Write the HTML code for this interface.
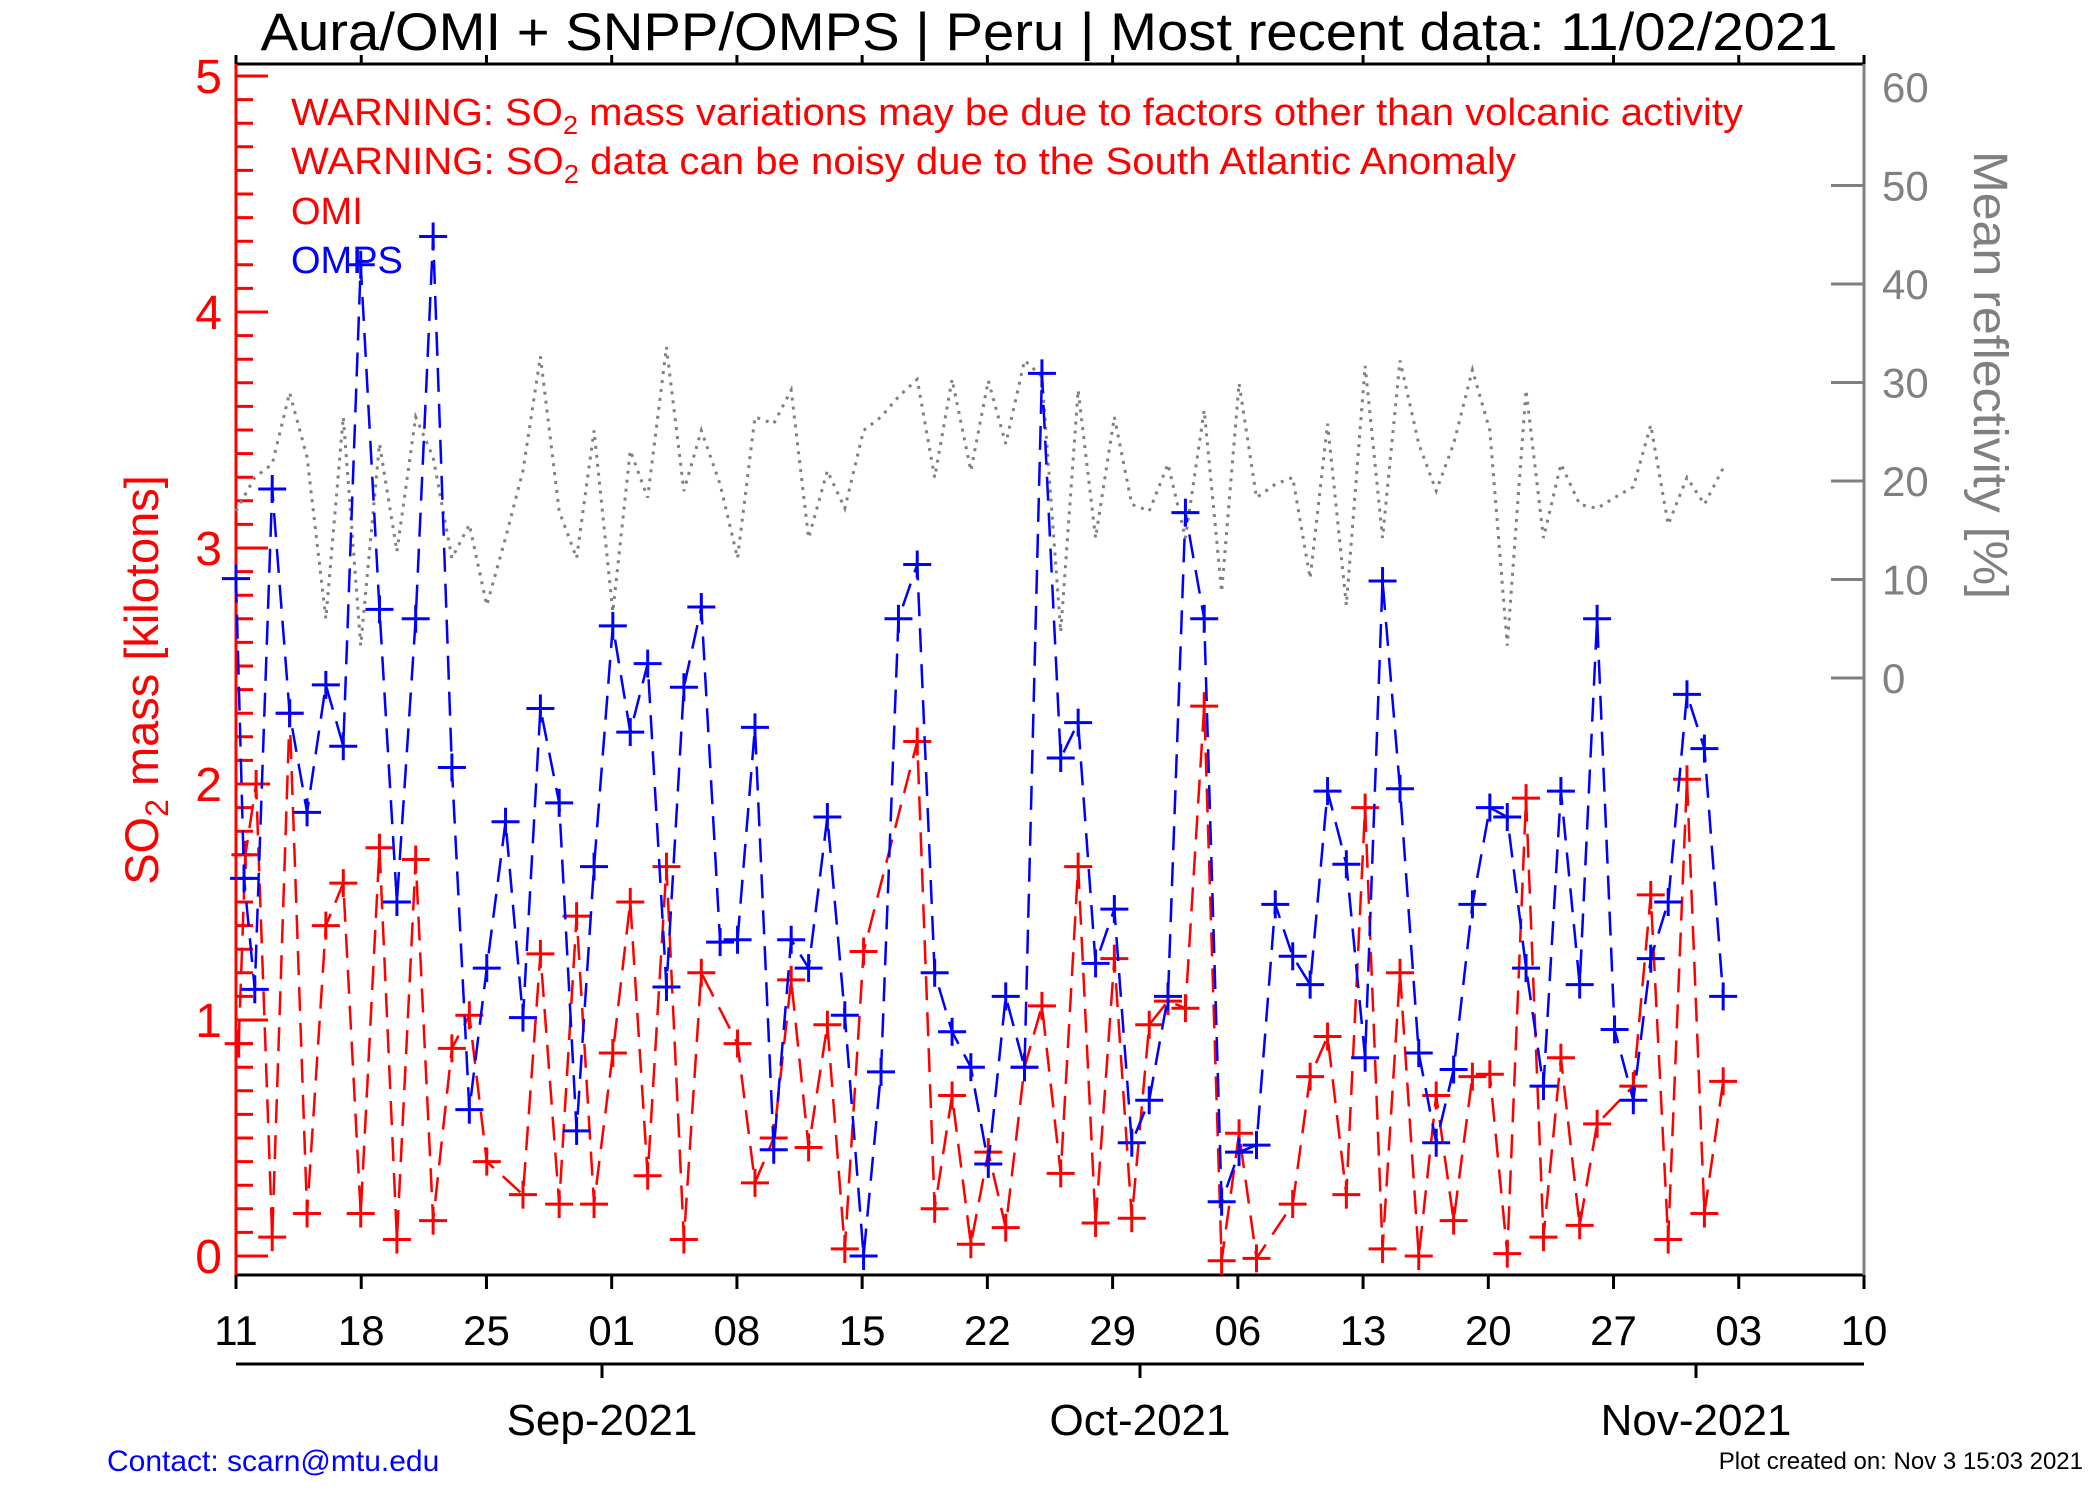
<!DOCTYPE html>
<html><head><meta charset="utf-8"><style>
html,body{margin:0;padding:0;background:#fff}
svg{display:block}
text{font-family:"Liberation Sans",Arial,sans-serif}
</style></head><body>
<svg id="s" xmlns="http://www.w3.org/2000/svg" width="2100" height="1500" viewBox="0 0 2100 1500">
<rect width="2100" height="1500" fill="#fff"/>
<text x="1049" y="50" font-size="53" text-anchor="middle" textLength="1577" lengthAdjust="spacingAndGlyphs">Aura/OMI + SNPP/OMPS | Peru | Most recent data: 11/02/2021</text>
<g id="g"></g>
<text x="291" y="125" font-size="38" fill="#f00" textLength="1452" lengthAdjust="spacingAndGlyphs">WARNING: SO<tspan font-size="26" dy="9">2</tspan><tspan dy="-9"> mass variations may be due to factors other than volcanic activity</tspan></text>
<text x="291" y="174" font-size="38" fill="#f00" textLength="1225" lengthAdjust="spacingAndGlyphs">WARNING: SO<tspan font-size="26" dy="9">2</tspan><tspan dy="-9"> data can be noisy due to the South Atlantic Anomaly</tspan></text>
<text x="291" y="224" font-size="38" fill="#f00">OMI</text>
<text x="291" y="273" font-size="38" fill="#00f">OMPS</text>
<text transform="translate(158,680) rotate(-90)" font-size="47" fill="#f00" text-anchor="middle">SO<tspan font-size="32" dy="10">2</tspan><tspan dy="-10"> mass [kilotons]</tspan></text>
<text transform="translate(1974,375) rotate(90)" font-size="48" fill="#808080" text-anchor="middle" textLength="448" lengthAdjust="spacingAndGlyphs">Mean reflectivity [%]</text>
<text x="602" y="1435" font-size="44" text-anchor="middle">Sep-2021</text>
<text x="1140" y="1435" font-size="44" text-anchor="middle">Oct-2021</text>
<text x="1696" y="1435" font-size="44" text-anchor="middle">Nov-2021</text>
<text x="107" y="1471" font-size="30" fill="#00f">Contact: scarn@mtu.edu</text>
<text x="2083" y="1469" font-size="24" text-anchor="end">Plot created on: Nov  3 15:03 2021</text>
</svg>
<script>
var NS="http://www.w3.org/2000/svg",g=document.getElementById("g");
function el(t,a){var e=document.createElementNS(NS,t);for(var k in a)e.setAttribute(k,a[k]);g.appendChild(e);return e;}
function line(x1,y1,x2,y2,c,w){el("line",{x1:x1,y1:y1,x2:x2,y2:y2,stroke:c,"stroke-width":w||3});}
var L=236,R=1864,T=64,B=1275;
function X(xd){return L+(xd-176)*1.341;}
function Y(v){return 1256-v*236;}
line(L,T,R,T,"#000",3);line(L,B,R,B,"#000",3);
line(L,T,L,B,"#f00",3);line(R,T,R,B,"#808080",3);
var labs=["11","18","25","01","08","15","22","29","06","13","20","27","03","10"];
for(var i=0;i<14;i++){var x=L+i*7*17.89;line(x,T,x,T-9,"#000",3);line(x,B,x,B+14,"#000",3);
 var t=el("text",{x:x,y:1345,"font-size":42,"text-anchor":"middle"});t.textContent=labs[i];}
line(L,1364,R,1364,"#000",3);
[602,1140,1696].forEach(function(x){line(x,1364,x,1378,"#000",3);});
for(var k=0;k<=51;k++){var y=Y(k/10);if(y<T)break;var maj=k%10==0;line(L,y,L+(maj?32:17),y,"#f00",3);
 if(maj){var t=el("text",{x:222,y:y+17,"font-size":48,"text-anchor":"end",fill:"#f00"});t.textContent=k/10;}}
for(var k=0;k<=6;k++){var y=678-k*98.5;if(k<6)line(R-33,y,R,y,"#808080",3);
 var t=el("text",{x:1882,y:y+15,"font-size":42,fill:"#808080"});t.textContent=k*10;}
var gr=[[176,380],[190,355],[203,345],[216,292],[229,340],[243,460],[256,310],[269,480],[283,330],[296,410],[310,310],[323,340],[337,415],[350,390],[363,450],[377,400],[390,350],[403,265],[417,380],[430,415],[443,320],[457,455],[470,335],[483,370],[497,258],[510,365],[523,320],[537,360],[550,415],[563,310],[577,315],[590,290],[603,400],[617,350],[630,378],[644,320],[657,310],[670,295],[684,282],[697,355],[710,282],[724,350],[737,283],[750,330],[764,268],[777,280],[791,470],[804,290],[817,400],[831,310],[844,375],[857,380],[871,345],[884,400],[898,305],[911,440],[924,285],[937,370],[951,360],[964,355],[977,430],[990,315],[1004,450],[1018,272],[1031,400],[1044,268],[1058,330],[1071,365],[1084,330],[1098,275],[1111,320],[1124,480],[1138,290],[1151,400],[1164,345],[1178,375],[1191,378],[1204,370],[1218,362],[1231,316],[1244,390],[1258,355],[1271,375],[1285,348]];
el("polyline",{points:gr.map(function(p){return X(p[0])+","+(p[1]*1.345);}).join(" "),fill:"none",stroke:"#808080","stroke-width":3,"stroke-dasharray":"3 6"});
function series(d,c){
 el("polyline",{points:d.map(function(p){return X(p[0])+","+Y(p[1]);}).join(" "),fill:"none",stroke:c,"stroke-width":2.5,"stroke-dasharray":"24 12"});
 d.forEach(function(p){var x=X(p[0]),y=Y(p[1]);line(x-14,y,x+14,y,c,3);line(x,y-14,x,y+14,c,3);});}
var omi=[[178,0.9],[183,1.7],[191,2.0],[203,0.08],[216,2.3],[229,0.18],[243,1.4],[256,1.58],[269,0.18],[283,1.73],[296,0.07],[310,1.68],[323,0.15],[337,0.88],[350,1.02],[363,0.4],[390,0.26],[403,1.28],[417,0.22],[430,1.44],[443,0.22],[457,0.86],[470,1.5],[483,0.34],[497,1.65],[510,0.07],[523,1.2],[550,0.9],[563,0.31],[577,0.5],[590,1.17],[603,0.46],[617,0.98],[630,0.03],[644,1.29],[684,2.18],[697,0.2],[710,0.68],[724,0.05],[737,0.44],[750,0.12],[764,0.8],[777,1.06],[791,0.35],[804,1.65],[817,0.14],[831,1.26],[844,0.16],[857,0.98],[871,1.08],[884,1.05],[898,2.33],[911,-0.02],[924,0.52],[937,-0.01],[964,0.22],[977,0.76],[990,0.93],[1004,0.26],[1018,1.9],[1031,0.03],[1044,1.2],[1058,0.0],[1071,0.68],[1084,0.15],[1098,0.76],[1111,0.77],[1124,0.01],[1138,1.94],[1151,0.08],[1164,0.84],[1178,0.13],[1191,0.56],[1218,0.72],[1231,1.53],[1244,0.07],[1258,2.02],[1271,0.18],[1285,0.74]];
var omps=[[176,2.87],[182,1.6],[190,1.13],[203,3.25],[216,2.3],[229,1.88],[243,2.42],[256,2.16],[269,4.2],[283,2.74],[296,1.5],[310,2.7],[323,4.32],[337,2.07],[350,0.62],[363,1.22],[377,1.84],[390,1.01],[403,2.32],[417,1.92],[430,0.53],[443,1.65],[457,2.67],[470,2.22],[483,2.51],[497,1.14],[510,2.41],[523,2.75],[537,1.33],[550,1.34],[563,2.24],[577,0.45],[590,1.34],[603,1.22],[617,1.86],[630,1.02],[644,0.0],[657,0.78],[670,2.7],[684,2.93],[697,1.2],[710,0.95],[724,0.8],[737,0.39],[750,1.1],[764,0.8],[777,3.74],[791,2.11],[804,2.26],[817,1.24],[831,1.47],[844,0.48],[857,0.66],[871,1.1],[884,3.15],[898,2.7],[911,0.23],[924,0.44],[937,0.47],[951,1.49],[964,1.27],[977,1.15],[990,1.97],[1004,1.66],[1018,0.84],[1031,2.86],[1044,1.98],[1058,0.86],[1071,0.48],[1084,0.79],[1098,1.49],[1111,1.9],[1124,1.86],[1138,1.22],[1151,0.72],[1164,1.97],[1178,1.15],[1191,2.7],[1204,0.96],[1218,0.66],[1231,1.26],[1244,1.5],[1258,2.38],[1271,2.15],[1285,1.1]];
series(omi,"#f00");series(omps,"#00f");
</script>
</body></html>
